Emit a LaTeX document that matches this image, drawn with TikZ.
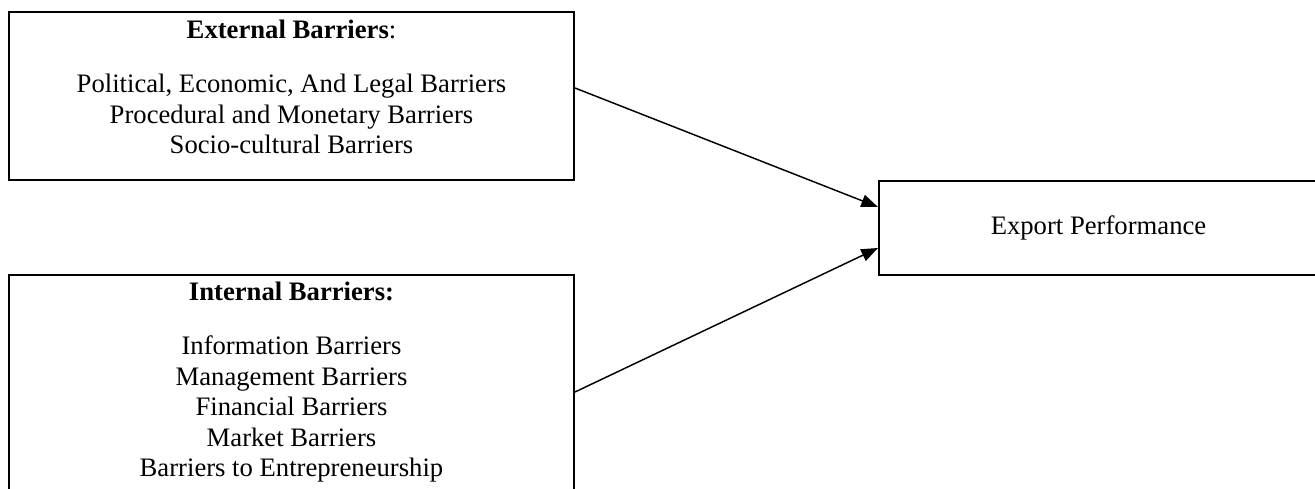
\documentclass[tikz,border=0pt]{standalone}
\usepackage{fontspec}
\setmainfont{Liberation Serif}
\usetikzlibrary{arrows.meta}
\begin{document}
\begin{tikzpicture}[x=0.75pt,y=-0.75pt,
  box/.style={draw, line width=1.5pt, rectangle, inner sep=0pt},
  txt/.style={align=center, inner sep=0pt, font=\fontsize{20pt}{22.9pt}\selectfont},
  conn/.style={line width=1.1pt, -{Triangle[length=12.5pt,width=9.5pt]}}]
\useasboundingbox (0,0) rectangle (1315,489);
\node[box, minimum width=423.75pt, minimum height=126pt] (ext) at (291.5,96) {};
\node[box, minimum width=423.75pt, minimum height=175.5pt] (int) at (291.5,392) {};
\node[box, txt, minimum width=329.25pt, minimum height=70.5pt] (exp) at (1098.5,228) {Export Performance};
\node[txt, anchor=north] (exttxt) at (291.5,20) {\textbf{External Barriers}:\\[17.6pt]
  Political, Economic, And Legal Barriers\\
  Procedural and Monetary Barriers\\
  Socio-cultural Barriers};
\node[txt, anchor=north] (inttxt) at (291.5,282) {\textbf{Internal Barriers:}\\[17.6pt]
  Information Barriers\\
  Management Barriers\\
  Financial Barriers\\
  Market Barriers\\
  Barriers to Entrepreneurship};
\draw[conn] ([yshift=6pt]ext.east) -- ([yshift=15.75pt]exp.west);
\draw[conn] (int.east) -- ([yshift=-15pt]exp.west);
\end{tikzpicture}
\end{document}
